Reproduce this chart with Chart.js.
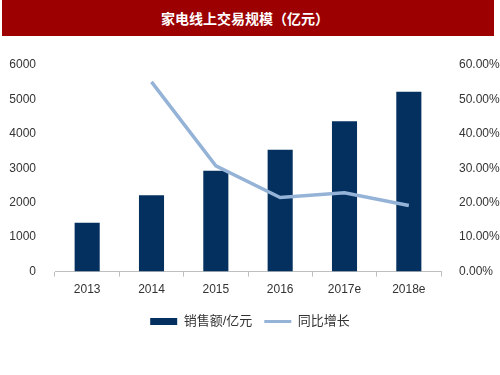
<!DOCTYPE html>
<html>
<head>
<meta charset="utf-8">
<script src="https://cdn.jsdelivr.net/npm/chart.js@4"></script>
<style>
    body { margin: 0; background: #fff; }
    #title {
        position: absolute; left: 2px; top: 0; width: 492px; height: 36px;
        background: #9c0000; color: #fff;
        font: bold 14px "Noto Sans CJK SC", sans-serif;
        line-height: 36px; text-align: center; text-indent: -6px;
    }
    #wrap { position: absolute; left: 0; top: 36px; width: 500px; height: 339px; }
</style>
</head>
<body>
<div id="title">家电线上交易规模（亿元）</div>
<div id="wrap"><canvas id="chart" width="500" height="339"></canvas></div>
<script>
const years = ["2013", "2014", "2015", "2016", "2017e", "2018e"];
// 销售额/亿元
const sales = [1420, 2220, 2930, 3540, 4370, 5220];
// 同比增长 (%)
const growth = [null, 55.1, 30.7, 21.5, 22.9, 19.2];

const FONT = "'Liberation Sans', 'Noto Sans CJK SC', sans-serif";
const BAR_COLOR = "#03305f";
const LINE_COLOR = "#95b3d7";
const TEXT_COLOR = "#333333";
const AXIS_COLOR = "#bfbfbf";

new Chart(document.getElementById("chart"), {
    data: {
        labels: years,
        datasets: [
            {
                type: "line",
                label: "同比增长",
                data: growth,
                yAxisID: "y1",
                borderColor: LINE_COLOR,
                backgroundColor: LINE_COLOR,
                borderWidth: 3.5,
                pointRadius: 0,
                tension: 0,
                order: 0,
            },
            {
                type: "bar",
                label: "销售额/亿元",
                data: sales,
                yAxisID: "y",
                backgroundColor: BAR_COLOR,
                borderWidth: 0,
                barPercentage: 0.39,
                categoryPercentage: 1,
                order: 1,
            },
        ],
    },
    options: {
        responsive: false,
        animation: false,
        layout: { padding: { top: 29, left: 0, right: 0, bottom: 37 } },
        scales: {
            x: {
                offset: true,
                grid: {
                    offset: true,
                    drawOnChartArea: false,
                    drawTicks: true,
                    tickLength: 5,
                    color: AXIS_COLOR,
                },
                border: { color: AXIS_COLOR },
                ticks: { color: TEXT_COLOR, font: { family: FONT, size: 12 }, padding: 6, maxRotation: 0 },
            },
            y: {
                position: "left",
                min: 0,
                max: 6000,
                ticks: {
                    stepSize: 1000,
                    color: TEXT_COLOR,
                    font: { family: FONT, size: 12 },
                    padding: 11,
                    callback: v => String(v),
                },
                grid: { display: false },
                border: { display: false },
                afterFit(scale) { scale.width = 55; },
            },
            y1: {
                position: "right",
                min: 0,
                max: 60,
                ticks: {
                    stepSize: 10,
                    color: TEXT_COLOR,
                    font: { family: FONT, size: 12 },
                    padding: 10,
                    callback: v => v.toFixed(2) + "%",
                },
                grid: { display: false },
                border: { display: false },
                afterFit(scale) { scale.width = 59; },
            },
        },
        plugins: {
            legend: {
                position: "bottom",
                labels: {
                    color: TEXT_COLOR,
                    font: { family: FONT, size: 13 },
                    usePointStyle: true,
                    pointStyleWidth: 27,
                    boxHeight: 7,
                    padding: 12,
                    // Bar first, then line, as in the source chart.
                    generateLabels(chart) {
                        return chart.data.datasets.map((ds, i) => ({
                            text: ds.label,
                            datasetIndex: i,
                            fillStyle: ds.type === "bar" ? BAR_COLOR : LINE_COLOR,
                            strokeStyle: ds.type === "bar" ? BAR_COLOR : LINE_COLOR,
                            lineWidth: ds.type === "bar" ? 0 : 3,
                            pointStyle: ds.type === "bar" ? "rect" : "line",
                            fontColor: TEXT_COLOR,
                            hidden: false,
                        })).reverse();
                    },
                },
            },
            tooltip: { enabled: false },
        },
    },
});
</script>
</body>
</html>
